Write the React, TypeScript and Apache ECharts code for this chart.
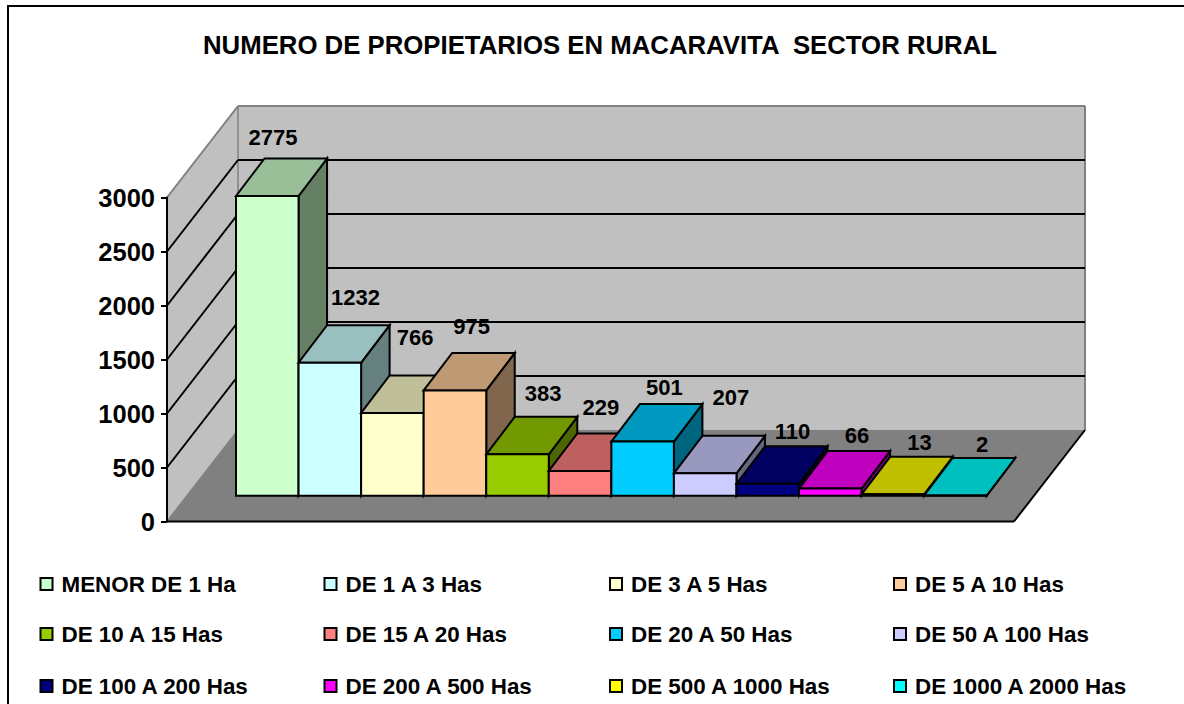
import React, { useEffect, useRef } from "react";
import * as echarts from "echarts";

const titleText = "NUMERO DE PROPIETARIOS EN MACARAVITA  SECTOR RURAL";
const categories = [
  "MENOR DE 1 Ha", "DE 1 A 3 Has", "DE 3 A 5 Has", "DE 5 A 10 Has",
  "DE 10 A 15 Has", "DE 15 A 20 Has", "DE 20 A 50 Has", "DE 50 A 100 Has",
  "DE 100 A 200 Has", "DE 200 A 500 Has", "DE 500 A 1000 Has", "DE 1000 A 2000 Has",
];
const values = [2775, 1232, 766, 975, 383, 229, 501, 207, 110, 66, 13, 2];
const colors = [
  "#CCFFCC", "#CCFFFF", "#FFFFCC", "#FFCC99", "#99CC00", "#FF8080",
  "#00CCFF", "#CCCCFF", "#000080", "#FF00FF", "#FFFF00", "#00FFFF",
];
const wallTicks = [500, 1000, 1500, 2000, 2500];
// Where each data label sits relative to the top-left corner of its bar's front face
const labelNudge = [
  [37, -59], [57, -65], [54, -75], [48, -64], [57, -61], [52, -63],
  [53, -54], [57, -76], [56, -52], [58, -53], [58, -52], [58, -51],
];
const legendColumns = [39.5, 323.5, 609, 893];
const legendRows = [573, 623, 675];

const FONT = '"Liberation Sans", Arial, sans-serif';
const WALL_DX = 71;
const WALL_DY = -91.5;
const BAR_DX = 28.5;
const BAR_DY = -37.5;
const LINE = 2;

function shade(hex: string, k: number) {
  const n = parseInt(hex.slice(1), 16);
  const f = (v: number) => Math.round(v * k);
  return `rgb(${f((n >> 16) & 255)},${f((n >> 8) & 255)},${f(n & 255)})`;
}

function renderShell(_p: any, api: any) {
  const a = api.coord([0, 0]);
  const b = api.coord([1, 0]);
  const t = api.coord([0, 3000]);
  const back = (p: number[]) => [p[0] + WALL_DX, p[1] + WALL_DY];
  const poly = (points: number[][], fill: string) => ({
    type: "polygon", shape: { points }, style: { fill, stroke: "none" },
  });
  const line = (p: number[], q: number[], stroke: string, lineWidth = LINE) => ({
    type: "line",
    shape: { x1: p[0], y1: p[1], x2: q[0], y2: q[1] },
    style: { stroke, lineWidth, fill: "none" },
  });
  const tr = [b[0], t[1]];
  return {
    type: "group",
    children: [
      poly([back(t), back(tr), back(b), back(a)], "#C0C0C0"),
      poly([t, back(t), back(a), a], "#C0C0C0"),
      poly([a, back(a), back(b), b], "#808080"),
      line(t, back(t), "#808080", 2),
      line(back(t), back(tr), "#808080", 2),
      line(back(t), back(a), "#808080", 1.5),
      line(back(tr), back(b), "#808080", 2),
      line(a, back(a), "#808080", 1.5),
      line(a, b, "#000", 2),
      line(b, back(b), "#000", LINE),
    ],
  };
}

function renderWallLine(_p: any, api: any) {
  const p = api.coord([0, api.value(0)]);
  const r = api.coord([1, api.value(0)]);
  const s = { stroke: "#000", lineWidth: LINE, fill: "none" };
  return {
    type: "group",
    children: [
      { type: "line", shape: { x1: p[0], y1: p[1], x2: p[0] + WALL_DX, y2: p[1] + WALL_DY }, style: s },
      { type: "line", shape: { x1: p[0] + WALL_DX, y1: p[1] + WALL_DY, x2: r[0] + WALL_DX, y2: r[1] + WALL_DY }, style: s },
    ],
  };
}

function renderBar(color: string) {
  return (_p: any, api: any) => {
    const top = api.coord([api.value(0), api.value(1)]);
    const base = api.coord([api.value(0), 0]);
    const w = api.size([1, 0])[0];
    const l = top[0] - w / 2;
    const r = top[0] + w / 2;
    const s = { stroke: "#000", lineWidth: LINE, lineJoin: "miter" };
    return {
      type: "group",
      children: [
        { type: "polygon", shape: { points: [[r, top[1]], [r + BAR_DX, top[1] + BAR_DY], [r + BAR_DX, base[1] + BAR_DY], [r, base[1]]] }, style: { ...s, fill: shade(color, 0.5) } },
        { type: "polygon", shape: { points: [[l, top[1]], [l + BAR_DX, top[1] + BAR_DY], [r + BAR_DX, top[1] + BAR_DY], [r, top[1]]] }, style: { ...s, fill: shade(color, 0.75) } },
        { type: "polygon", shape: { points: [[l, top[1]], [r, top[1]], [r, base[1]], [l, base[1]]] }, style: { ...s, fill: color } },
      ],
    };
  };
}

function renderLabel(_p: any, api: any) {
  const i = api.value(0);
  const v = api.value(1);
  const top = api.coord([i, v]);
  const w = api.size([1, 0])[0];
  return {
    type: "text",
    style: {
      text: String(v),
      x: top[0] - w / 2 + labelNudge[i][0],
      y: top[1] + labelNudge[i][1],
      align: "center",
      verticalAlign: "middle",
      fill: "#000",
      font: `bold 22px ${FONT}`,
    },
  };
}

export default function App() {
  const ref = useRef<HTMLDivElement>(null);
  useEffect(() => {
    document.body.style.margin = "0";
    const chart = echarts.init(ref.current!, undefined, { renderer: "svg" });
    const barSeries = categories.map((name, i) => ({
      type: "custom",
      name,
      xAxisIndex: 1,
      yAxisIndex: 1,
      z: 3,
      clip: false,
      silent: true,
      itemStyle: { color: colors[i] },
      encode: { x: 0, y: 1 },
      data: [[i, values[i]]],
      renderItem: renderBar(colors[i]),
    }));
    chart.setOption({
      animation: false,
      backgroundColor: "#fff",
      title: {
        text: titleText,
        left: 203,
        top: 32,
        padding: 0,
        textStyle: { fontFamily: FONT, fontWeight: "bold", fontSize: 25.75, color: "#000" },
      },
      grid: [
        { left: 167, top: 197.5, width: 847, height: 324 },
        { left: 236, top: 171.7, width: 750.7, height: 324 },
      ],
      xAxis: [
        { gridIndex: 0, type: "value", min: 0, max: 1, show: false },
        { gridIndex: 1, type: "category", data: categories, show: false },
      ],
      yAxis: [
        {
          gridIndex: 0, type: "value", min: 0, max: 3000, interval: 500, z: 5,
          axisLine: { show: true, lineStyle: { color: "#000", width: 2 } },
          axisTick: { show: true, length: 6, lineStyle: { color: "#000", width: 2 } },
          axisLabel: {
            fontFamily: FONT, fontWeight: "bold", fontSize: 25.5, color: "#000", margin: 12,
            padding: [4, 0, 0, 0],
            formatter: (v: number) => String(v),
          },
          splitLine: { show: false },
        },
        { gridIndex: 1, type: "value", min: 0, max: 3000, show: false, splitLine: { show: false } },
      ],
      legend: categories.map((name, i) => ({
        data: [name],
        left: legendColumns[i % 4],
        top: legendRows[Math.floor(i / 4)],
        padding: 0,
        itemWidth: 12,
        itemHeight: 12,
        icon: "rect",
        selectedMode: false,
        itemStyle: { color: colors[i], borderColor: "#000", borderWidth: 2 },
        textStyle: { fontFamily: FONT, fontWeight: "bold", fontSize: 22.4, color: "#000", padding: [0, 0, 0, 4] },
      })),
      graphic: [
        {
          type: "polyline",
          shape: { points: [[8, 704], [8, 6], [1184, 6]] },
          style: { stroke: "#000", lineWidth: 2, fill: "none" },
        },
      ],
      series: [
        {
          type: "custom", name: "shell", xAxisIndex: 0, yAxisIndex: 0, z: 1, clip: false, silent: true,
          encode: { x: 0, y: 1 }, data: [[0, 0]], renderItem: renderShell,
        },
        {
          type: "custom", name: "wallLines", xAxisIndex: 0, yAxisIndex: 0, z: 2, clip: false, silent: true,
          encode: { y: 0 }, data: wallTicks.map((v) => [v]), renderItem: renderWallLine,
        },
        ...barSeries,
        {
          type: "custom", name: "labels", xAxisIndex: 1, yAxisIndex: 1, z: 6, clip: false, silent: true,
          encode: { x: 0, y: 1 }, data: values.map((v, i) => [i, v]), renderItem: renderLabel,
        },
      ],
    });
    return () => chart.dispose();
  }, []);
  return <div ref={ref} style={{ position: "fixed", left: 0, top: 0, width: 1184, height: 704 }} />;
}
